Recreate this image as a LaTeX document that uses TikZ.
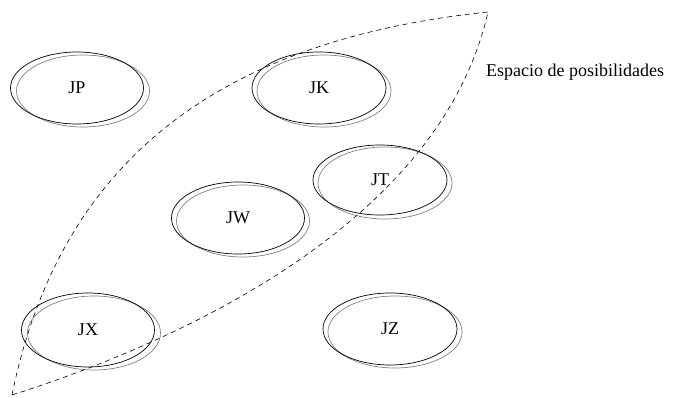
\documentclass[tikz,border=0pt]{standalone}
\usepackage{fontspec}
\setmainfont{Liberation Serif}
\usetikzlibrary{shapes.geometric}
\begin{document}
\begin{tikzpicture}[x=1pt,y=-1pt,
  jug/.style={ellipse,draw=black,line width=0.7pt,inner sep=0pt,
    minimum width=133pt,minimum height=72pt,font=\fontsize{18}{22}\selectfont},
  sombra/.style={draw=black!50,line width=0.7pt},
  lente/.style={dashed,line width=0.6pt,dash pattern=on 5pt off 4pt}]
\useasboundingbox (0,0) rectangle (681,398);
% grey shadow ellipses
\draw[sombra] (83,91) ellipse [x radius=66.5pt,y radius=36pt];
\draw[sombra] (324,91) ellipse [x radius=67pt,y radius=36pt];
\draw[sombra] (385,183) ellipse [x radius=67pt,y radius=36pt];
\draw[sombra] (243,221) ellipse [x radius=66.5pt,y radius=36pt];
\draw[sombra] (94,333) ellipse [x radius=66.5pt,y radius=37pt];
\draw[sombra] (395,332) ellipse [x radius=67pt,y radius=36pt];
% black ellipses with labels
\node[jug] (jp) at (77,88) {JP};
\node[jug,minimum width=134pt] (jk) at (319,88) {JK};
\node[jug,minimum width=134pt,minimum height=70pt] (jt) at (380,180) {JT};
\node[jug] (jw) at (238,218) {JW};
\node[jug,minimum height=74pt] (jx) at (88,330) {JX};
\node[jug,minimum width=134pt] (jz) at (390,329) {JZ};
% space of possibilities
\coordinate (a) at (12,395);
\coordinate (b) at (488,12);
\draw[lente] (a) .. controls (60,160) and (220,40) .. (b);
\draw[lente] (a) .. controls (200,335) and (442,215) .. (b);
\node[font=\fontsize{18}{22}\selectfont,anchor=west,inner sep=0pt] (esp) at (486,72) {Espacio de posibilidades};
\end{tikzpicture}
\end{document}
